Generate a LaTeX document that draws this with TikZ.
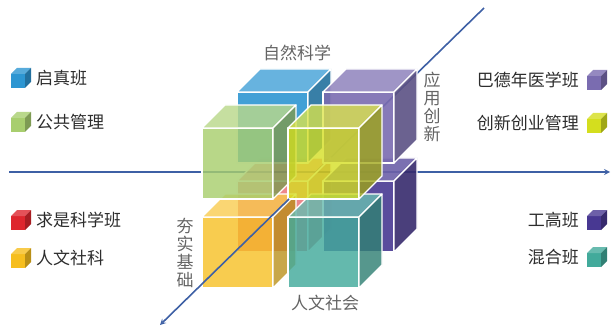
\documentclass[tikz,border=0pt]{standalone}
\usepackage{fontspec}
\newfontfamily\cjk{Noto Sans CJK SC}
\usepackage{tikz}
\usetikzlibrary{positioning,arrows}
\definecolor{axisblue}{RGB}{62,96,165}
\definecolor{qzblue}{RGB}{45,150,210}
\definecolor{ggreen}{RGB}{168,206,110}
\definecolor{qsred}{RGB}{222,38,46}
\definecolor{rwyellow}{RGB}{246,190,30}
\definecolor{bdpurple}{RGB}{122,108,176}
\definecolor{cxlime}{RGB}{212,222,30}
\definecolor{ggpurple}{RGB}{72,56,146}
\definecolor{hhteal}{RGB}{66,170,155}
\definecolor{labelgray}{RGB}{100,100,100}
\definecolor{textdark}{RGB}{45,45,45}
\tikzstyle{legendtext}=[inner sep=0pt, font=\cjk\fontsize{17}{18}\selectfont, text=textdark]
\tikzstyle{axislabel}=[inner sep=0pt, font=\cjk\fontsize{17}{18}\selectfont, text=labelgray, align=center]
\tikzstyle{axisline}=[draw=axisblue, line width=1.6pt]
\tikzstyle{cubeedge}=[draw=white, line width=1.3pt, line join=round]

% #1,#2 front top-left corner, #3 size, #4 depth, #5 colour, #6 opacity
\newcommand{\blockcube}[6]{%
  \filldraw[cubeedge, fill=#5, fill opacity=#6] (#1,#2) rectangle ++(#3,#3);
  \filldraw[cubeedge, fill=#5!80!white, fill opacity=#6] (#1,#2) -- ++(#4,-#4) -- ++(#3,0) -- ++(-#4,#4) -- cycle;
  \filldraw[cubeedge, fill=#5!75!black, fill opacity=#6] (#1+#3,#2) -- ++(#4,-#4) -- ++(0,#3) -- ++(-#4,#4) -- cycle;
}
% #1 name, #2,#3 centre, #4 colour
\newcommand{\legendcube}[4]{%
  \coordinate (#1) at (#2,#3);
  \fill[#4] (#2-10,#3-4) rectangle ++(14,14);
  \fill[#4!80!white] (#2-10,#3-4) -- ++(6,-6) -- ++(14,0) -- ++(-6,6) -- cycle;
  \fill[#4!75!black] (#2+4,#3-4) -- ++(6,-6) -- ++(0,14) -- ++(-6,6) -- cycle;
}

\begin{document}
\begin{tikzpicture}[x=1pt,y=-1pt]
\useasboundingbox (0,0) rectangle (613,326);
\coordinate (centre) at (316,172);
\coordinate (xleft) at (9,172);
\coordinate (xright) at (610,172);
\coordinate (ztop) at (484,8);
\coordinate (zfront) at (289,199);
\coordinate (zbottom) at (160,325);
% axes behind the cubes
\draw[axisline,->,>=stealth] (xleft) -- (xright);
\draw[axisline] (centre) -- (ztop);
% back layer
\blockcube{237}{181}{71}{23}{qsred}{0.55}
\blockcube{323}{181}{71}{23}{ggpurple}{0.9}
\blockcube{237}{92}{71}{23}{qzblue}{0.9}
\blockcube{323}{92}{71}{23}{bdpurple}{0.9}
% front layer
\blockcube{202}{217}{71}{23}{rwyellow}{0.78}
\blockcube{288}{217}{71}{23}{hhteal}{0.82}
\blockcube{202}{128}{71}{23}{ggreen}{0.82}
\blockcube{288}{128}{71}{23}{cxlime}{0.78}
\draw[axisline,->,>=stealth] (zfront) -- (zbottom);
% axis labels
\node[axislabel] (natsci) at (297,53) {自然科学};
\node[axislabel] (applied) at (432,107) {应\\用\\创\\新};
\node[axislabel] (basics) at (185,253) {夯\\实\\基\\础};
\node[axislabel] (humsoc) at (325,303) {人文社会};
% legend left
\legendcube{icqz}{21}{78}{qzblue}
\node[legendtext, right=15pt of icqz] (tqz) {启真班};
\legendcube{icgg}{21}{122}{ggreen}
\node[legendtext, right=15pt of icgg] (tgg) {公共管理};
\legendcube{icqs}{21}{220}{qsred}
\node[legendtext, right=15pt of icqs] (tqs) {求是科学班};
\legendcube{icrw}{21}{258}{rwyellow}
\node[legendtext, right=15pt of icrw] (trw) {人文社科};
% legend right
\legendcube{icbd}{597}{80}{bdpurple}
\node[legendtext, left=18pt of icbd] (tbd) {巴德年医学班};
\legendcube{iccx}{597}{123}{cxlime}
\node[legendtext, left=18pt of iccx] (tcx) {创新创业管理};
\legendcube{icgp}{597}{220}{ggpurple}
\node[legendtext, left=18pt of icgp] (tgp) {工高班};
\legendcube{ichh}{597}{257}{hhteal}
\node[legendtext, left=18pt of ichh] (thh) {混合班};
\end{tikzpicture}
\end{document}
